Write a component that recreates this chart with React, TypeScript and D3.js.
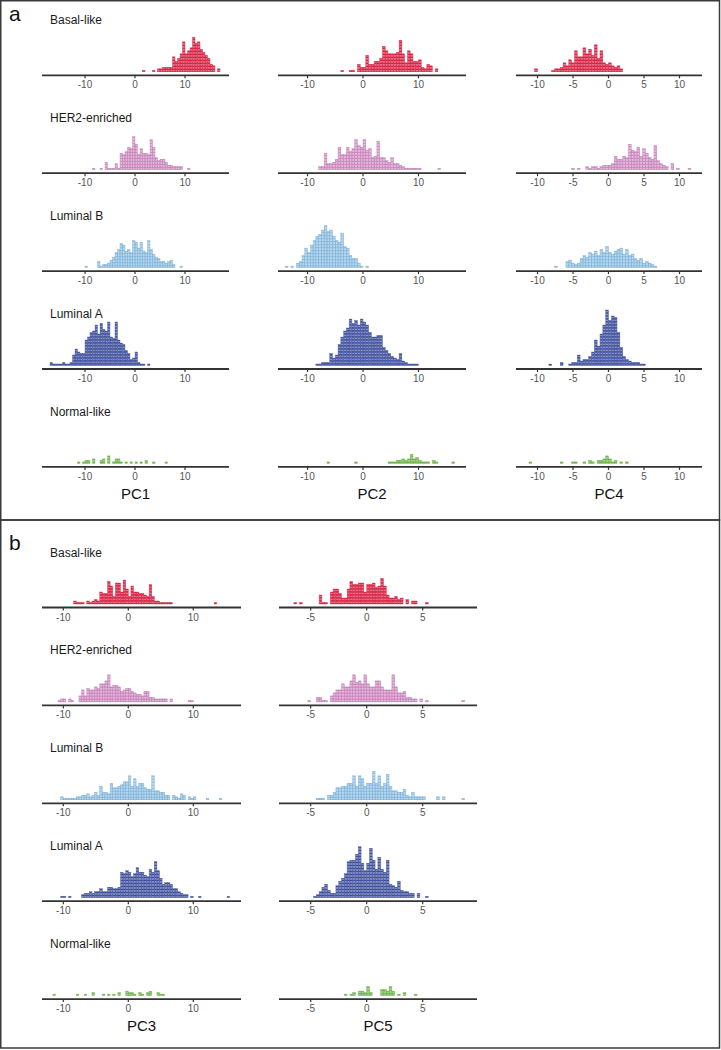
import React from "react";
import * as d3 from "d3";

// ---------- data ----------
const subtypes = ["Basal-like", "HER2-enriched", "Luminal B", "Luminal A", "Normal-like"];
const subtypeColors = ["#e41a3f", "#d68cc8", "#8cc4ec", "#3c4ea4", "#6ebe46"];

const pcNames = ["PC1", "PC2", "PC4", "PC3", "PC5"];
const pcBinWidth = [0.5, 0.5, 0.4, 0.4, 0.25];
const pcDomainMin = [-18.6, -15.32, -13.03, -13.28, -7.83];
const pcDomainMax = [18.8, 18.56, 13.17, 17.34, 9.85];
const pcTicks = [[-10, 0, 10], [-10, 0, 10], [-10, -5, 0, 5, 10], [-10, 0, 10], [-5, 0, 5]];

// PC1 (bin width 0.5)
const pc1Starts = [1.5, -8.5, -10, -17, -11.5];
const pc1Basal = [1,0,0,0,1,0,2,2,3,3,3,3,10,7,9,12,20,12,14,16,23,19,20,15,13,11,9,5,4,0,2];
const pc1Her2 = [1,0,0,1,0,5,1,1,1,4,1,11,10,12,15,14,22,17,10,14,11,11,10,20,15,8,6,7,7,5,3,3,2,2,2,2,0,0,1];
const pc1LumB = [1,0,0,0,0,4,1,2,2,3,5,7,10,12,16,15,11,12,10,18,17,13,17,11,10,18,12,9,7,6,4,4,3,4,5,2,0,0,1];
const pc1LumA = [2,1,1,1,1,2,1,1,2,7,11,9,8,8,17,19,22,23,27,21,28,24,23,29,19,18,29,17,15,14,10,8,4,5,9,2,1,1,0,1];
const pc1Normal = [1,0,1,2,2,0,3,0,0,2,3,0,5,0,1,3,3,1,0,1,0,1,0,1,0,1,0,2,0,0,1,0,0,0,0,1];

// PC2 (bin width 0.5)
const pc2Starts = [-4, -8, -14, -8.5, -6.5];
const pc2Basal = [1,0,0,1,1,0,5,3,3,11,5,5,7,7,9,17,14,12,12,12,13,21,12,6,14,12,7,7,8,3,2,5,4,0,2];
const pc2Her2 = [2,2,11,4,4,5,7,15,10,10,15,12,14,20,16,15,20,13,14,8,9,19,8,8,6,5,8,4,4,3,2,1,1,1,1,1,1,0,0,0,0,0,0,1];
const pc2LumB = [1,0,1,0,3,4,8,13,10,15,18,21,22,25,28,24,25,21,18,17,23,14,13,8,6,6,3,1,0,1];
const pc2LumA = [1,1,2,2,2,8,5,7,14,19,23,25,31,28,30,27,31,29,27,22,19,19,20,20,12,10,8,6,5,4,8,3,2,1,1,1,1];
const pc2Normal = [1,0,0,0,0,0,0,0,0,0,1,0,0,0,0,0,0,0,0,0,0,0,1,1,1,2,2,3,2,3,6,3,4,2,1,1,1,0,2,1,0,0,0,0,0,1];

// PC4 (bin width 0.4)
const pc4Starts = [-10.4, -5.2, -7.6, -8.4, -11.2];
const pc4Basal = [2,0,0,0,0,0,1,2,2,3,6,4,8,6,14,10,10,16,12,15,11,18,9,14,6,5,6,4,3,4,2];
const pc4Her2 = [1,0,1,0,0,2,1,2,2,1,2,3,3,3,4,9,7,7,9,8,17,13,12,15,9,14,11,8,7,16,6,4,3,2,0,4,0,1,0,0,0,1];
const pc4LumB = [1,0,0,0,4,5,3,2,3,6,8,7,10,9,11,8,12,10,14,10,9,11,12,13,9,12,8,9,6,5,6,3,4,3,2,1];
const pc4LumA = [1,0,0,0,2,0,0,1,2,2,7,3,4,4,6,9,17,13,21,27,37,30,33,32,22,12,6,4,3,2,2,2,1,1];
const pc4Normal = [1,0,0,0,0,0,0,0,0,0,0,1,0,0,0,1,1,0,0,1,0,2,1,0,2,2,3,5,3,1,2,0,1,0,1];

// PC3 (bin width 0.4)
const pc3Starts = [-8.4, -11.2, -10.4, -10.4, -11.6];
const pc3Basal = [2,1,1,1,0,2,1,2,3,2,8,7,7,15,12,5,14,14,8,16,10,5,12,8,8,7,7,6,5,13,5,2,2,1,1,1,1,1,0,0,0,0,0,0,0,0,0,0,0,0,0,0,0,0,1];
const pc3Her2 = [0,1,2,2,0,2,1,0,0,4,8,4,9,8,8,10,9,12,12,14,18,10,11,11,10,7,8,9,9,7,6,5,5,4,7,7,3,3,2,2,2,2,2,0,2,0,0,0,0,0,0,1,1];
const pc3LumB = [2,1,1,1,1,1,2,2,3,3,4,2,3,5,3,9,5,5,4,11,8,8,9,10,12,12,16,9,14,9,11,11,8,7,7,16,6,6,5,5,3,3,0,3,2,1,4,3,0,2,1,2,0,0,0,0,1,0,0,0,0,1];
const pc3LumA = [1,1,0,1,0,0,0,0,2,3,3,4,3,4,4,6,4,4,7,7,6,6,7,17,16,18,17,14,16,20,17,17,15,14,19,17,24,18,13,9,10,10,9,6,6,4,3,2,2,0,1,0,0,1,0,0,0,0,0,0,0,0,0,0,1];
const pc3Normal = [1,0,0,0,0,0,0,0,0,1,0,0,1,0,0,2,0,0,0,1,0,1,0,1,0,2,0,0,3,2,2,1,0,2,1,0,2,3,0,0,2,1,1];

// PC5 (bin width 0.25)
const pc5Starts = [-6.5, -5.25, -4.75, -4.75, -2.0];
const pc5Basal = [1,0,1,0,0,0,0,0,0,6,1,1,0,8,10,10,7,4,4,10,15,13,13,14,14,8,13,13,14,11,12,17,12,6,4,4,5,3,4,0,3,0,2,2,0,0,0,1];
const pc5Her2 = [1,0,0,3,3,1,1,0,4,6,8,8,12,10,10,14,18,13,14,12,18,12,10,10,14,14,10,8,8,8,18,10,6,6,7,3,3,2,2,0,2,0,1,0,0,0,0,0,0,0,0,0,0,0,0,1];
const pc5LumB = [0,1,1,1,0,3,3,5,8,8,9,9,11,11,16,9,16,14,9,11,11,19,11,16,9,11,17,9,6,6,5,5,7,3,2,5,2,2,2,2,0,0,0,0,2,0,2,0,0,0,0,0,0,1];
const pc5LumA = [1,2,4,7,9,5,3,3,8,11,13,16,24,25,25,29,34,23,18,23,33,25,19,27,19,17,25,9,8,7,11,5,4,4,3,3,0,3,0,0,1];
const pc5Normal = [1,0,1,2,0,3,3,2,6,2,0,0,0,4,4,3,6,3,0,1,0,2,0,0,0,1];

const pcStarts = [pc1Starts, pc2Starts, pc4Starts, pc3Starts, pc5Starts];
const pcCounts = [
  [pc1Basal, pc1Her2, pc1LumB, pc1LumA, pc1Normal],
  [pc2Basal, pc2Her2, pc2LumB, pc2LumA, pc2Normal],
  [pc4Basal, pc4Her2, pc4LumB, pc4LumA, pc4Normal],
  [pc3Basal, pc3Her2, pc3LumB, pc3LumA, pc3Normal],
  [pc5Basal, pc5Her2, pc5LumB, pc5LumA, pc5Normal],
];

// ---------- layout ----------
const W = 721;
const H = 1050;
const FONT = "'Liberation Sans', Arial, Helvetica, sans-serif";
const UNIT = 1.5;
const GAP = 3.5;
const ROW_STEP = 97.9;

const panels = [
  { letter: "a", top: 0.75, bottom: 520, firstAxis: 75.3, letterY: 21,
    cols: [{ pc: 0, x0: 42, x1: 229 }, { pc: 1, x0: 278, x1: 466 }, { pc: 2, x0: 516, x1: 702 }] },
  { letter: "b", top: 520, bottom: 1048, firstAxis: 607.5, letterY: 550,
    cols: [{ pc: 3, x0: 42, x1: 241 }, { pc: 4, x0: 279, x1: 477 }] },
];

function Histo({ xs, axisY, start, bw, counts, color }) {
  const base = axisY - GAP;
  const dark = d3.color(color).darker(0.7).formatHex();
  const cells = [];
  const outlines = [];
  counts.forEach((c, i) => {
    if (!c) return;
    const xa = xs(start + i * bw);
    const xb = xs(start + (i + 1) * bw);
    for (let j = 0; j < c; j++) {
      cells.push(
        <rect key={`${i}-${j}`} x={xa} y={base - (j + 1) * UNIT} width={xb - xa} height={UNIT}
          fill={color} stroke="#ffffff" strokeWidth={0.25} strokeOpacity={0.55} />
      );
    }
    outlines.push(
      <rect key={`o${i}`} x={xa} y={base - c * UNIT} width={xb - xa} height={c * UNIT}
        fill="none" stroke={dark} strokeWidth={0.45} strokeOpacity={0.7} />
    );
  });
  return <g>{cells}{outlines}</g>;
}

export default function App() {
  return (
    <svg width={W} height={H} viewBox={`0 0 ${W} ${H}`}
      style={{ position: "absolute", left: 0, top: 0, background: "#fff" }}
      fontFamily={FONT}>
      <rect x={0} y={0} width={W} height={H} fill="#fff" />
      {panels.map((p, pi) => (
        <g key={pi}>
          <rect x={0.75} y={p.top} width={W - 2.25} height={p.bottom - p.top}
            fill="none" stroke="#3a3a3a" strokeWidth={1.5} />
          <text x={9} y={p.letterY} fontSize={21} fill="#111">{p.letter}</text>
          {subtypes.map((st, si) => {
            const axisY = p.firstAxis + si * ROW_STEP;
            return (
              <g key={st}>
                <text x={50} y={axisY - 51} fontSize={12} fill="#1a1a1a">{st}</text>
                {p.cols.map((col) => {
                  const xs = d3.scaleLinear()
                    .domain([pcDomainMin[col.pc], pcDomainMax[col.pc]])
                    .range([col.x0, col.x1]);
                  return (
                    <g key={col.pc}>
                      <Histo xs={xs} axisY={axisY} start={pcStarts[col.pc][si]}
                        bw={pcBinWidth[col.pc]} counts={pcCounts[col.pc][si]}
                        color={subtypeColors[si]} />
                      <line x1={col.x0} x2={col.x1} y1={axisY} y2={axisY}
                        stroke="#333" strokeWidth={1.8} />
                      {pcTicks[col.pc].map((t) => (
                        <g key={t}>
                          <line x1={xs(t)} x2={xs(t)} y1={axisY} y2={axisY + 3}
                            stroke="#333" strokeWidth={1.2} />
                          <text x={xs(t)} y={axisY + 13} fontSize={10} fill="#555"
                            textAnchor="middle">{t < 0 ? `-${Math.abs(t)}` : `${t}`}</text>
                        </g>
                      ))}
                    </g>
                  );
                })}
              </g>
            );
          })}
          {p.cols.map((col) => (
            <text key={col.pc} x={(col.x0 + col.x1) / 2}
              y={p.firstAxis + 4 * ROW_STEP + 32} fontSize={15} fill="#111"
              textAnchor="middle">{pcNames[col.pc]}</text>
          ))}
        </g>
      ))}
    </svg>
  );
}
